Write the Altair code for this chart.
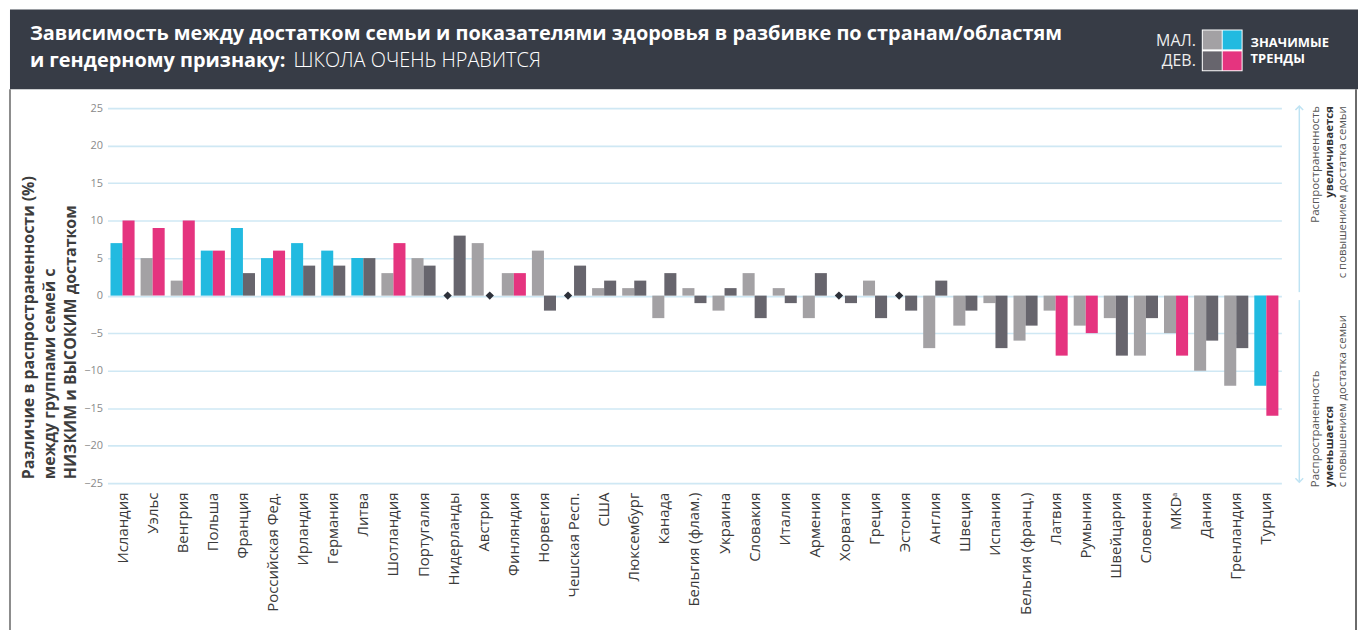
import altair as alt
import pandas as pd

countries = ["Исландия", "Уэльс", "Венгрия", "Польша", "Франция", "Российская Фед.",
             "Ирландия", "Германия", "Литва", "Шотландия", "Португалия", "Нидерланды",
             "Австрия", "Финляндия", "Норвегия", "Чешская Респ.", "США", "Люксембург",
             "Канада", "Бельгия (флам.)", "Украина", "Словакия", "Италия", "Армения",
             "Хорватия", "Греция", "Эстония", "Англия", "Швеция", "Испания",
             "Бельгия (франц.)", "Латвия", "Румыния", "Швейцария", "Словения", "MKDᵃ",
             "Дания", "Гренландия", "Турция"]
boys = [7, 5, 2, 6, 9, 5, 7, 6, 5, 3, 5, 0, 7, 3, 6, 0, 1, 1, -3, 1,
        -2, 3, 1, -3, 0, 2, 0, -7, -4, -1, -6, -2, -4, -3, -8, -5, -10, -12, -12]
girls = [10, 9, 10, 6, 3, 6, 4, 4, 5, 7, 4, 8, 0, 3, -2, 4, 2, 2, 3, -1,
         1, -3, -1, 3, -1, -3, -2, 2, -2, -7, -4, -8, -5, -8, -3, -8, -6, -7, -16]
boys_sig = [1, 0, 0, 1, 1, 1, 1, 1, 1, 0, 0, 0, 0, 0, 0, 0, 0, 0, 0, 0,
            0, 0, 0, 0, 0, 0, 0, 0, 0, 0, 0, 0, 0, 0, 0, 0, 0, 0, 1]
girls_sig = [1, 1, 1, 1, 0, 1, 0, 0, 0, 1, 0, 0, 0, 1, 0, 0, 0, 0, 0, 0,
             0, 0, 0, 0, 0, 0, 0, 0, 0, 0, 0, 1, 1, 0, 0, 1, 0, 0, 1]
y_ticks = [-25, -20, -15, -10, -5, 0, 5, 10, 15, 20, 25]

rows = []
for i, c in enumerate(countries):
    rows.append({"country": c, "gender": "boys", "value": boys[i],
                 "cat": "boys_sig" if boys_sig[i] else "boys_ns"})
    rows.append({"country": c, "gender": "girls", "value": girls[i],
                 "cat": "girls_sig" if girls_sig[i] else "girls_ns"})
df = pd.DataFrame(rows)

FONT = "Open Sans"
CYAN = "#22bae0"
PINK = "#e5347f"
LGRAY = "#a3a1a4"
DGRAY = "#67656d"
HEADER = "#373c46"

xaxis = alt.Axis(labelAngle=270, labelAlign="right", labelBaseline="middle",
                 labelFontSize=15, labelColor="#3a3a3a", labelFont=FONT,
                 labelPadding=9, domain=False, ticks=False, grid=False,
                 labelLimit=300, labelOverlap=False)
yaxis = alt.Axis(values=y_ticks, labelFontSize=11, labelColor="#8a8a8a",
                 labelFont=FONT, labelPadding=5, domain=False, ticks=False,
                 grid=True, gridColor="#cfe8f4", gridWidth=1.6,
                 labelOverlap=False, labelFlush=False)
xscale = alt.Scale(paddingInner=0.2, paddingOuter=0.1)
yscale = alt.Scale(domain=[-25, 25], nice=False)


def xenc():
    return alt.X("country:N", sort=countries, title=None, scale=xscale, axis=xaxis)


def yenc():
    return alt.Y("value:Q", scale=yscale, title=None, axis=yaxis)


xoff = alt.XOffset("gender:N", sort=["boys", "girls"],
                   scale=alt.Scale(paddingInner=0, paddingOuter=0))
color = alt.Color("cat:N", legend=None,
                  scale=alt.Scale(domain=["boys_ns", "boys_sig", "girls_ns", "girls_sig"],
                                  range=[LGRAY, CYAN, DGRAY, PINK]))

bars = alt.Chart(df).mark_bar().encode(x=xenc(), xOffset=xoff, y=yenc(), color=color)
diamonds = alt.Chart(df).transform_filter("datum.value == 0").mark_point(
    shape="diamond", filled=True, color="#2d313a", size=70, opacity=1
).encode(x=xenc(), xOffset=xoff, y=yenc())

one = alt.InlineData(values=[{"k": 1}])


def txt(s, x, y, size, color="#ffffff", weight="normal", align="left",
        baseline="alphabetic", angle=0, font=FONT):
    kw = dict(text=s, fontSize=size, color=color, fontWeight=weight, align=align,
              baseline=baseline, font=font)
    if angle:
        kw["angle"] = angle
    return alt.Chart(one).mark_text(**kw).encode(x=alt.value(x), y=alt.value(y))


def rect(x, x2, y, y2, fill):
    return alt.Chart(one).mark_rect(color=fill).encode(
        x=alt.value(x), x2=alt.value(x2), y=alt.value(y), y2=alt.value(y2))


def rule(x, x2, y, y2, color, w):
    return alt.Chart(one).mark_rule(color=color, strokeWidth=w).encode(
        x=alt.value(x), x2=alt.value(x2), y=alt.value(y), y2=alt.value(y2))


def chev(x, y, up=True):
    path = "M-1,1L0,0L1,1" if up else "M-1,-1L0,0L1,-1"
    return alt.Chart(one).mark_point(shape=path, filled=False, color="#bfe3f3",
                                     strokeWidth=1.5, size=60, opacity=1).encode(
        x=alt.value(x), y=alt.value(y))


layers = [
    # header band
    rect(-98, 1257, -99, -19, HEADER),
    txt("Зависимость между достатком семьи и показателями здоровья в разбивке по странам/областям",
        -78, -68, 20, weight="bold"),
    txt("и гендерному признаку:", -78, -41, 20, weight="bold"),
    txt("ШКОЛА ОЧЕНЬ НРАВИТСЯ", 187, -41, 20, weight=300),
    # legend in header
    rect(1100, 1141, -79, -37, "#ffffff"),
    rect(1101, 1120, -78, -59, LGRAY),
    rect(1121, 1140, -78, -59, CYAN),
    rect(1101, 1120, -57, -38, DGRAY),
    rect(1121, 1140, -57, -38, PINK),
    txt("МАЛ.", 1094, -67, 16, color="#eeeeee", align="right", baseline="middle"),
    txt("ДЕВ.", 1094, -47, 16, color="#eeeeee", align="right", baseline="middle"),
    txt("ЗНАЧИМЫЕ", 1149, -65, 13, weight="bold", baseline="middle"),
    txt("ТРЕНДЫ", 1149, -49, 13, weight="bold", baseline="middle"),
    # frame
    rule(-98, -98, -19, 530, "#8c8c8c", 2),
    rule(1255, 1255, -19, 530, "#6a6a6a", 2),
    bars,
    diamonds,
    # y axis title
    txt("Различие в распространенности (%)", -79, 373, 16, color="#3d3d3d",
        weight="bold", baseline="middle", angle=270),
    txt("между группами семей с", -58, 373, 16, color="#3d3d3d",
        weight="bold", baseline="middle", angle=270),
    txt("НИЗКИМ и ВЫСОКИМ достатком", -37, 373, 16, color="#3d3d3d",
        weight="bold", baseline="middle", angle=270),
    # right annotations
    rule(1198, 1198, -2, 185, "#bfe3f3", 1.5),
    rule(1198, 1198, 193, 376, "#bfe3f3", 1.5),
    chev(1198, -2, True),
    chev(1198, 376, False),
    txt("Распространенность", 1215, -2, 11.5, color="#555555", align="right",
        baseline="middle", angle=270),
    txt("увеличивается", 1229, -2, 11.5, color="#333333", weight="bold", align="right",
        baseline="middle", angle=270),
    txt("с повышением достатка семьи", 1242, -2, 11.5, color="#555555", align="right",
        baseline="middle", angle=270),
    txt("Распространенность", 1215, 381, 11.5, color="#555555", align="left",
        baseline="middle", angle=270),
    txt("уменьшается", 1229, 381, 11.5, color="#333333", weight="bold", align="left",
        baseline="middle", angle=270),
    txt("с повышением достатка семьи", 1242, 381, 11.5, color="#555555", align="left",
        baseline="middle", angle=270),
]

chart = alt.layer(*layers).properties(
    width=1180, height=377,
    autosize=alt.AutoSizeParams(type="none"),
    padding={"left": 100, "top": 99, "right": 77, "bottom": 146},
    background="white",
).configure_view(stroke=None).configure_text(font=FONT)

chart.save("out.html", embed_options={"renderer": "svg", "actions": False})
